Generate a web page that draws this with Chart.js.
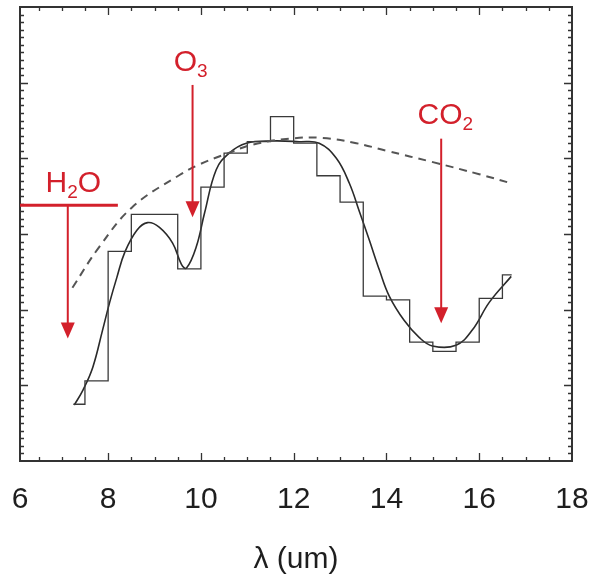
<!DOCTYPE html>
<html><head><meta charset="utf-8">
<script src="https://cdn.jsdelivr.net/npm/chart.js@4"></script>
<style>html,body{margin:0;padding:0;background:#fff}canvas{display:block}</style>
</head><body>
<canvas id="c" width="592" height="575"></canvas>
<script>
// Smooth measured spectrum (solid line)
const spectrumX = [7.27, 7.46, 7.67, 7.88, 8.03, 8.19, 8.36, 8.62, 8.85, 9.10, 9.39, 9.58, 9.69, 9.90, 10.08, 10.33, 10.61, 10.98, 11.54, 12.12, 12.55, 12.92, 13.20, 13.42, 13.63, 13.85, 14.06, 14.38, 14.71, 14.99, 15.50, 15.85, 16.22, 16.69];
const spectrumY = [0.74, 0.94, 1.24, 1.73, 2.09, 2.43, 2.76, 3.05, 3.15, 3.09, 2.88, 2.60, 2.55, 2.83, 3.28, 3.85, 4.07, 4.20, 4.23, 4.22, 4.20, 4.00, 3.67, 3.29, 2.92, 2.52, 2.18, 1.86, 1.63, 1.52, 1.53, 1.73, 2.10, 2.44];
// Binned spectrum (step histogram)
const histEdges = [7.25, 7.5, 8.0, 8.5, 9.0, 9.5, 10.0, 10.5, 11.0, 11.5, 12.0, 12.5, 13.0, 13.5, 14.0, 14.5, 15.0, 15.5, 16.0, 16.5, 16.7];
const histValues = [0.75, 1.06, 2.77, 3.26, 3.26, 2.54, 3.62, 4.07, 4.22, 4.55, 4.20, 3.77, 3.42, 2.18, 2.13, 1.57, 1.45, 1.57, 2.15, 2.46];
// Blackbody reference (dashed)
const blackbodyX = [7.23, 7.81, 8.53, 9.54, 9.97, 10.55, 11.11, 11.91, 12.62, 13.35, 14.0, 15.0, 16.0, 16.69];
const blackbodyY = [2.29, 2.83, 3.36, 3.78, 3.92, 4.06, 4.18, 4.26, 4.27, 4.20, 4.10, 3.95, 3.79, 3.67];
// Axis ticks
const xTickValues = [6, 8, 10, 12, 14, 16, 18];
const xTickLabels = ['6', '8', '10', '12', '14', '16', '18'];
const xAxisTitle = 'λ (um)';
// Absorption band annotations (anchors in data units)
const bandNames = ['H2O', 'O3', 'CO2'];
const bandParts = [['H', '2', 'O'], ['O', '3', ''], ['CO', '2', '']];
const bandTextX = [7.25, 9.78, 15.27];
const bandTextY = [3.56, 5.15, 4.45];
const bandArrowX = [7.13, 9.82, 15.18];
const bandArrowFrom = [3.38, 4.97, 4.26];
const bandArrowTo = [1.62, 3.22, 1.82];

const X_MIN = 6.1, X_MAX = 18, Y_MIN = 0, Y_MAX = 6;
const RED = '#d3202b';
const FONT = "'Liberation Sans', Arial, sans-serif";

const spectrum = spectrumX.map((v, i) => ({x: v, y: spectrumY[i]}));
const blackbody = blackbodyX.map((v, i) => ({x: v, y: blackbodyY[i]}));
const hist = histValues.map((v, i) => ({x: histEdges[i], y: v}));
hist.push({x: histEdges[histEdges.length - 1], y: histValues[histValues.length - 1]});

const framePlugin = {
  id: 'frame',
  afterDatasetsDraw(chart) {
    const {ctx, chartArea: a, scales: {x, y}} = chart;
    ctx.save();
    ctx.strokeStyle = '#333';
    ctx.lineWidth = 1.3;
    ctx.beginPath();
    for (let k = 13; k <= 35; k++) {
      const v = k / 2;
      const px = Math.round(x.getPixelForValue(v)) + 0.5;
      const len = (k % 4 === 0) ? 8 : 4;
      ctx.moveTo(px, a.bottom); ctx.lineTo(px, a.bottom - len);
      ctx.moveTo(px, a.top); ctx.lineTo(px, a.top + len);
    }
    for (let k = 1; k < 60; k++) {
      const v = k / 10;
      const py = Math.round(y.getPixelForValue(v)) + 0.5;
      const len = (k % 10 === 0) ? 8 : 4;
      ctx.moveTo(a.left, py); ctx.lineTo(a.left + len, py);
      ctx.moveTo(a.right, py); ctx.lineTo(a.right - len, py);
    }
    ctx.stroke();
    ctx.lineWidth = 2;
    ctx.strokeRect(a.left, a.top, a.right - a.left, a.bottom - a.top);

    // annotations
    ctx.strokeStyle = RED; ctx.fillStyle = RED;
    for (let i = 0; i < bandNames.length; i++) {
      const ax = x.getPixelForValue(bandArrowX[i]);
      const y0 = y.getPixelForValue(bandArrowFrom[i]);
      const y1 = y.getPixelForValue(bandArrowTo[i]);
      const headLen = 16, headW = 7;
      ctx.lineWidth = 2;
      ctx.beginPath(); ctx.moveTo(ax, y0); ctx.lineTo(ax, y1 - headLen + 1); ctx.stroke();
      ctx.beginPath();
      ctx.moveTo(ax - headW, y1 - headLen); ctx.lineTo(ax + headW, y1 - headLen); ctx.lineTo(ax, y1);
      ctx.closePath(); ctx.fill();
      if (i === 0) {
        ctx.lineWidth = 3;
        ctx.beginPath();
        ctx.moveTo(a.left, y0); ctx.lineTo(x.getPixelForValue(8.21), y0);
        ctx.stroke();
      }
      const [main, sub, tail] = bandParts[i];
      const mainFont = '30px ' + FONT, subFont = '19px ' + FONT;
      ctx.font = mainFont; const w1 = ctx.measureText(main).width; const w3 = ctx.measureText(tail).width;
      ctx.font = subFont; const w2 = ctx.measureText(sub).width;
      const tx = x.getPixelForValue(bandTextX[i]) - (w1 + w2 + w3) / 2;
      const ty = y.getPixelForValue(bandTextY[i]);
      ctx.textBaseline = 'alphabetic'; ctx.textAlign = 'left';
      ctx.font = mainFont; ctx.fillText(main, tx, ty);
      ctx.font = subFont; ctx.fillText(sub, tx + w1, ty + 6);
      ctx.font = mainFont; ctx.fillText(tail, tx + w1 + w2, ty);
    }
    ctx.restore();
  }
};

new Chart(document.getElementById('c'), {
  type: 'line',
  data: {
    datasets: [
      {label: 'blackbody', data: blackbody, borderColor: '#555', borderWidth: 2, borderDash: [8, 6], pointRadius: 0, tension: 0.4, fill: false},
      {label: 'binned', data: hist, borderColor: '#3a3a3a', borderWidth: 1.3, stepped: true, pointRadius: 0, fill: false},
      {label: 'spectrum', data: spectrum, borderColor: '#2a2a2a', borderWidth: 1.6, pointRadius: 0, tension: 0.4, fill: false}
    ]
  },
  options: {
    responsive: false,
    animation: false,
    devicePixelRatio: 1,
    layout: {padding: {left: 20, right: 20, top: 7, bottom: 0}},
    plugins: {legend: {display: false}, tooltip: {enabled: false}},
    scales: {
      x: {
        type: 'linear', min: X_MIN, max: X_MAX, position: 'bottom',
        grid: {display: false, drawTicks: false},
        border: {display: false},
        afterBuildTicks: (s) => { s.ticks = xTickValues.map(v => ({value: Math.min(Math.max(v, X_MIN), X_MAX)})); },
        afterFit: (s) => { s.height = 114; s.paddingLeft = 0; s.paddingRight = 0; },
        ticks: {
          autoSkip: false, maxRotation: 0, padding: 21, color: '#1e1e1e',
          font: {family: FONT, size: 30, lineHeight: 1.2},
          callback: (v, i) => xTickLabels[i]
        },
        title: {display: true, text: xAxisTitle, color: '#1e1e1e', font: {family: FONT, size: 30, lineHeight: 1}, padding: {top: 0, bottom: 0}}
      },
      y: {type: 'linear', min: Y_MIN, max: Y_MAX, display: false}
    }
  },
  plugins: [framePlugin]
});
</script>
</body></html>
